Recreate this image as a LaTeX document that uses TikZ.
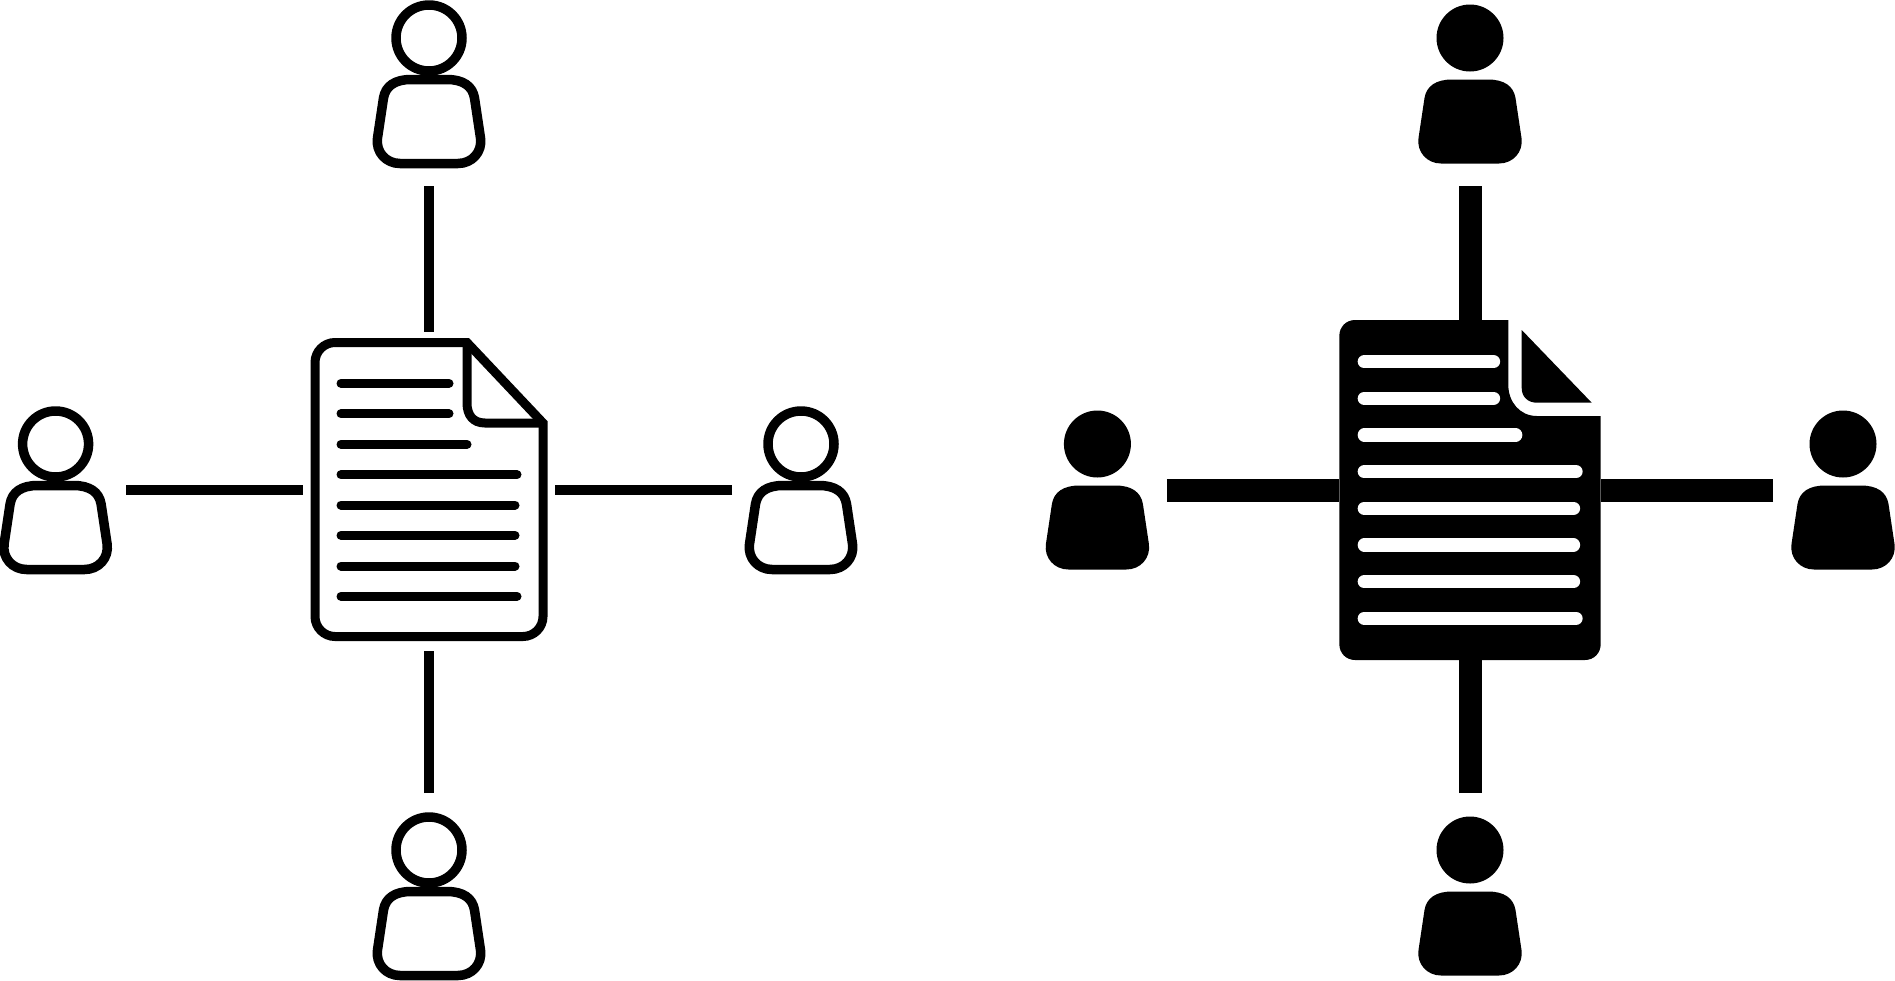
\documentclass[tikz,border=0pt]{standalone}
\tikzset{
  anchorbox/.style={inner sep=0pt,outer sep=0pt,minimum width=114pt,minimum height=168pt},
  docbox/.style={inner sep=0pt,outer sep=0pt},
  outlined/.style={draw=black,line width=9.5pt,line join=round,fill=none},
  docoutline/.style={draw=black,line width=9pt,line join=miter,fill=none},
  thinlink/.style={draw=black,line width=10pt},
  thicklink/.style={draw=black,line width=23pt},
  textline/.style={draw=black,line width=9pt,line cap=round},
  whiteline/.style={draw=white,line width=13.3pt,line cap=round}
}
\newcommand{\bodypath}{(-18,41.5) -- (18,41.5) .. controls (34,41.5) and (43.5,48) .. (45.5,60)
      -- (51.5,100) .. controls (53.5,114) and (43,125.5) .. (29,125.5)
      -- (-29,125.5) .. controls (-43,125.5) and (-53.5,114) .. (-51.5,100)
      -- (-45.5,60) .. controls (-43.5,48) and (-34,41.5) .. (-18,41.5) -- cycle}
\begin{document}
\begin{tikzpicture}[x=1pt,y=-1pt]
\useasboundingbox (0,0) rectangle (1895,980);
\fill[white] (0,0) rectangle (1895,980);
% --- left, outlined ---
\node[docbox,minimum width=236.6pt,minimum height=303pt] (docA) at (429,490) {};
\foreach \nm/\px/\py in {aT/429/38,aL/55.6/444,aR/801/444,aB/429/850}{
  \node[anchorbox] (\nm) at (\px,\py+46) {};
  \begin{scope}[shift={(\px,\py)}]
    \draw[outlined] (0,0) circle[radius=33pt];
    \draw[outlined] \bodypath;
  \end{scope}
}
\draw[thinlink,shorten <=18pt,shorten >=6.5pt] (aT.south) -- (docA.north);
\draw[thinlink,shorten <=13.4pt,shorten >=7.7pt] (aL.east) -- (docA.west);
\draw[thinlink,shorten <=12pt,shorten >=7.7pt] (aR.west) -- (docA.east);
\draw[thinlink,shorten <=19pt,shorten >=9.5pt] (aB.north) -- (docA.south);
\draw[docoutline] (467,342.5) -- (335,342.5)
  .. controls (324,342.5) and (315,351.5) .. (315,362.5)
  -- (315,616.5) .. controls (315,627.5) and (324,636.5) .. (335,636.5)
  -- (523,636.5) .. controls (534,636.5) and (543,627.5) .. (543,616.5)
  -- (543,423) -- cycle;
\draw[docoutline] (467,342.5) -- (467,403) .. controls (467,415) and (473,423) .. (485,423) -- (543,423);
\foreach \ly/\lx in {383.3/449,413.7/449,444.3/467,474.7/517,505/515,535.3/515,566/515,596.3/517}{
  \draw[textline] (341,\ly) -- (\lx,\ly);
}
% --- right, filled ---
\node[docbox,minimum width=261.4pt,minimum height=340pt] (docB) at (1470,490) {};
\foreach \nm/\px/\py in {bT/1470/38,bL/1097.4/444,bR/1843/444,bB/1470/850}{
  \node[anchorbox] (\nm) at (\px,\py+46) {};
  \begin{scope}[shift={(\px,\py)}]
    \fill[black] (0,0) circle[radius=33.5pt];
    \fill[black] \bodypath;
  \end{scope}
}
\draw[thicklink,shorten <=18pt] (bT.south) -- (docB.north);
\draw[thicklink,shorten <=12.4pt] (bL.east) -- (docB.west);
\draw[thicklink,shorten <=13pt] (bR.west) -- (docB.east);
\draw[thicklink,shorten <=19pt] (bB.north) -- (docB.south);
\fill[black] (1508.3,320) -- (1355,320) .. controls (1346,320) and (1339.3,327) .. (1339.3,336)
  -- (1339.3,644) .. controls (1339.3,653) and (1346,660) .. (1355,660)
  -- (1585,660) .. controls (1594,660) and (1600.7,653) .. (1600.7,644)
  -- (1600.7,416) -- (1536.7,416)
  .. controls (1520,416) and (1508.3,402) .. (1508.3,385) -- cycle;
\fill[black] (1521.7,330) -- (1591.7,402.7) -- (1537,402.7)
  .. controls (1528,402.7) and (1521.7,397) .. (1521.7,388) -- cycle;
\foreach \ly/\lx in {361.7/1493.5,398.3/1493.5,435/1515.7,471.7/1576,508.3/1573.5,545/1573.5,581.7/1573.5,618.3/1576}{
  \draw[whiteline] (1364.3,\ly) -- (\lx,\ly);
}
\end{tikzpicture}
\end{document}
